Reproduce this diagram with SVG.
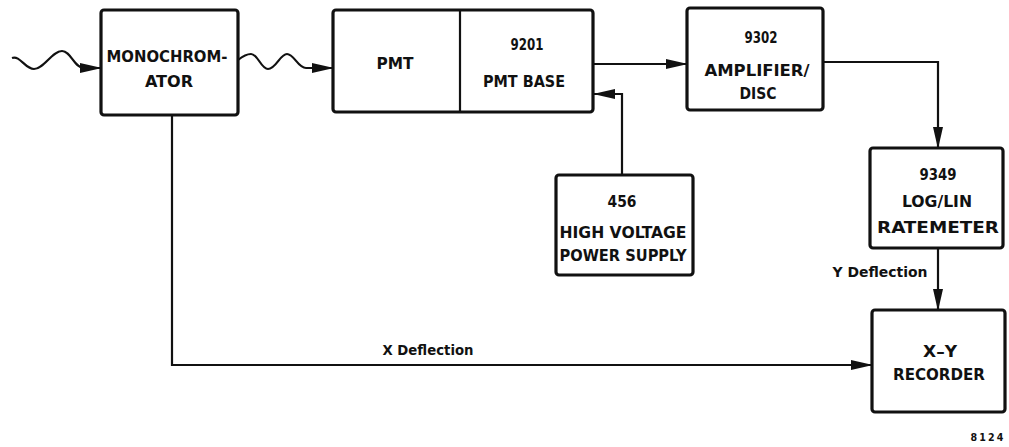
<svg xmlns="http://www.w3.org/2000/svg" width="1009" height="447" viewBox="0 0 1009 447">
<style>
.box{fill:#fff;stroke:#111;stroke-width:3.2}
.ln{fill:none;stroke:#111;stroke-width:2.2}
text{font-family:"DejaVu Sans Condensed","DejaVu Sans","Liberation Sans",sans-serif;font-weight:bold;fill:#111;font-size:16px;text-anchor:middle}
.sm{font-size:14px}
.tiny{font-size:10px;letter-spacing:2px}
</style>
<defs>
<marker id="ah" markerUnits="userSpaceOnUse" markerWidth="22" markerHeight="12" refX="21" refY="6" orient="auto">
<path d="M0,1 L22,6 L0,11 z" fill="#111"/>
</marker>
</defs>
<rect width="1009" height="447" fill="#fff"/>
<g id="connectors">
<path class="ln" d="M12,58 C20,55 25,69 34,69 C44,69 52,51 62,51 C71,51 74,68 84,68 L101,68" marker-end="url(#ah)"/>
<path class="ln" d="M238,60 C243,56 246,54 251,54 C258,54 261,69 268,69 C276,69 280,54 287,54 C294,54 298,68 306,68 L333,68" marker-end="url(#ah)"/>
<path class="ln" d="M593,64 L687,64" marker-end="url(#ah)"/>
<path class="ln" d="M622,175 L622,94 L594,94" marker-end="url(#ah)"/>
<path class="ln" d="M823,62 L938,62 L938,148" marker-end="url(#ah)"/>
<path class="ln" d="M938,248 L938,310" marker-end="url(#ah)"/>
<path class="ln" d="M172,115 L172,365 L872,365" marker-end="url(#ah)"/>
<text class="sm" x="880" y="277" textLength="95" lengthAdjust="spacingAndGlyphs">Y Deflection</text>
<text class="sm" x="428" y="355" textLength="91" lengthAdjust="spacingAndGlyphs">X Deflection</text>
</g>
<g id="monochromator">
<rect class="box" x="101" y="10" width="137" height="105" rx="3"/>
<text x="167" y="62" textLength="121" lengthAdjust="spacingAndGlyphs">MONOCHROM-</text>
<text x="169" y="87" textLength="48" lengthAdjust="spacingAndGlyphs">ATOR</text>
</g>
<g id="pmt">
<rect class="box" x="333" y="10" width="260" height="102" rx="3"/>
<line class="ln" x1="460" y1="10" x2="460" y2="112" stroke-width="2.5"/>
<text x="395" y="69" textLength="37" lengthAdjust="spacingAndGlyphs">PMT</text>
<text x="527" y="50" textLength="33" lengthAdjust="spacingAndGlyphs">9201</text>
<text x="524" y="87" textLength="82" lengthAdjust="spacingAndGlyphs">PMT BASE</text>
</g>
<g id="amplifier">
<rect class="box" x="687" y="8" width="136" height="102" rx="3"/>
<text x="761" y="43" textLength="33" lengthAdjust="spacingAndGlyphs">9302</text>
<text x="757" y="76" textLength="105" lengthAdjust="spacingAndGlyphs">AMPLIFIER/</text>
<text x="758" y="99" textLength="37" lengthAdjust="spacingAndGlyphs">DISC</text>
</g>
<g id="hvps">
<rect class="box" x="556" y="175" width="137" height="100" rx="3"/>
<text x="622" y="207" textLength="29" lengthAdjust="spacingAndGlyphs">456</text>
<text x="623" y="238" textLength="127" lengthAdjust="spacingAndGlyphs">HIGH VOLTAGE</text>
<text x="623" y="261" textLength="127" lengthAdjust="spacingAndGlyphs">POWER SUPPLY</text>
</g>
<g id="ratemeter">
<rect class="box" x="870" y="148" width="133" height="100" rx="3"/>
<text x="938" y="180" textLength="37" lengthAdjust="spacingAndGlyphs">9349</text>
<text x="937" y="207" textLength="70" lengthAdjust="spacingAndGlyphs">LOG/LIN</text>
<text x="938" y="233" textLength="122" lengthAdjust="spacingAndGlyphs">RATEMETER</text>
</g>
<g id="recorder">
<rect class="box" x="872" y="310" width="133" height="102" rx="3"/>
<text x="940" y="357" textLength="34" lengthAdjust="spacingAndGlyphs">X–Y</text>
<text x="939" y="380" textLength="92" lengthAdjust="spacingAndGlyphs">RECORDER</text>
</g>
<text class="tiny" x="988" y="441" textLength="35" lengthAdjust="spacingAndGlyphs">8124</text>
</svg>
